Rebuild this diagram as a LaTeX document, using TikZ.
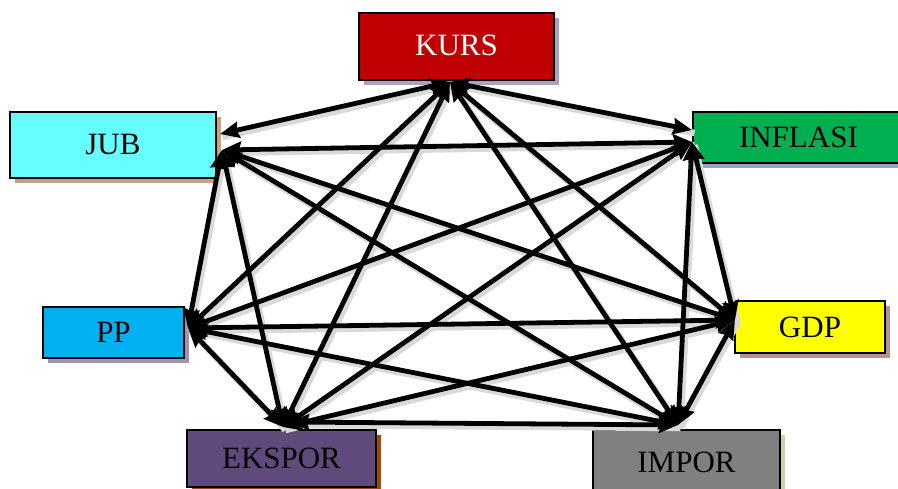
\documentclass[tikz,border=0pt]{standalone}
\usepackage{fontspec}
\setmainfont{Liberation Serif}
\usetikzlibrary{arrows.meta,shadows}
\definecolor{kursred}{HTML}{C00000}
\definecolor{jubcyan}{HTML}{66FFFF}
\definecolor{infgreen}{HTML}{00B050}
\definecolor{ppblue}{HTML}{00B0F0}
\definecolor{gdpyellow}{HTML}{FFFF00}
\definecolor{ekspurple}{HTML}{604A7B}
\definecolor{impgray}{HTML}{808080}
\definecolor{shkurs}{HTML}{A9A3BD}
\definecolor{shjub}{HTML}{C8A07F}
\definecolor{shinf}{HTML}{8FA9B5}
\definecolor{shpp}{HTML}{9E94B0}
\definecolor{shgdp}{HTML}{B89090}
\definecolor{sheks}{HTML}{A04A00}
\definecolor{shimp}{HTML}{C5D6A8}
\tikzset{
  varbox/.style={draw=black, line width=2.2pt, inner sep=0pt,
    font=\fontsize{31}{36}\selectfont},
  sh/.style={drop shadow={shadow xshift=5pt, shadow yshift=-5pt, fill=#1, opacity=1}},
  link/.style={line width=4.8pt, black,
    {Stealth[length=19pt,width=16pt,inset=2pt]}-{Stealth[length=19pt,width=16pt,inset=2pt]}},
  linkshadow/.style={line width=6.5pt, gray!30, transform canvas={shift={(2.5pt,-3pt)}}}
}
\begin{document}
\begin{tikzpicture}[x=1pt,y=-1pt]
\useasboundingbox (0,0) rectangle (898,489);
% boxes
\node[varbox, sh=shkurs, fill=kursred, text=white, minimum width=195pt, minimum height=67pt] (kurs) at (456.5,46.5) {\raisebox{3pt}{KURS}};
\node[varbox, sh=shjub, fill=jubcyan, minimum width=206pt, minimum height=66pt] (jub) at (113,145) {\raisebox{2pt}{JUB}};
\node[varbox, sh=shinf, fill=infgreen, minimum width=217pt, minimum height=51pt, text width=205pt, align=left] (inf) at (801.5,137.5) {\hspace*{40pt}INFLASI};
\node[varbox, sh=shpp, fill=ppblue, minimum width=141pt, minimum height=51pt] (pp) at (113.5,332.5) {PP};
\node[varbox, sh=shgdp, fill=gdpyellow, minimum width=150pt, minimum height=52pt] (gdp) at (810,327) {GDP};
\node[varbox, sh=sheks, fill=ekspurple, minimum width=189pt, minimum height=57pt] (eks) at (281.5,458.5) {EKSPOR};
\node[varbox, sh=shimp, fill=impgray, minimum width=187pt, minimum height=64pt] (imp) at (686.5,462) {IMPOR};
% hub points
\coordinate (k) at (450,82);
\coordinate (j) at (222,150);
\coordinate (j2) at (220,134);
\coordinate (i) at (692,142);
\coordinate (i2) at (692,130);
\coordinate (p) at (188,328);
\coordinate (g) at (735,320);
\coordinate (e) at (283,427);
\coordinate (e2) at (290,422);
\coordinate (m) at (678,425);
% shadows of links
\foreach \a/\b in {k/j2,k/i2,k/p,k/g,k/e,k/m,j/i,j/p,j/g,j/e,j/m,i/p,i/g,i/e,i/m,p/g,p/e,p/m,g/e,g/m,e2/m}
  \draw[linkshadow] (\a) -- (\b);
% links
\foreach \a/\b in {k/j2,k/i2,k/p,k/g,k/e,k/m,j/i,j/p,j/g,j/e,j/m,i/p,i/g,i/e,i/m,p/g,p/e,p/m,g/e,g/m,e2/m}
  \draw[link] (\a) -- (\b);
\end{tikzpicture}
\end{document}
